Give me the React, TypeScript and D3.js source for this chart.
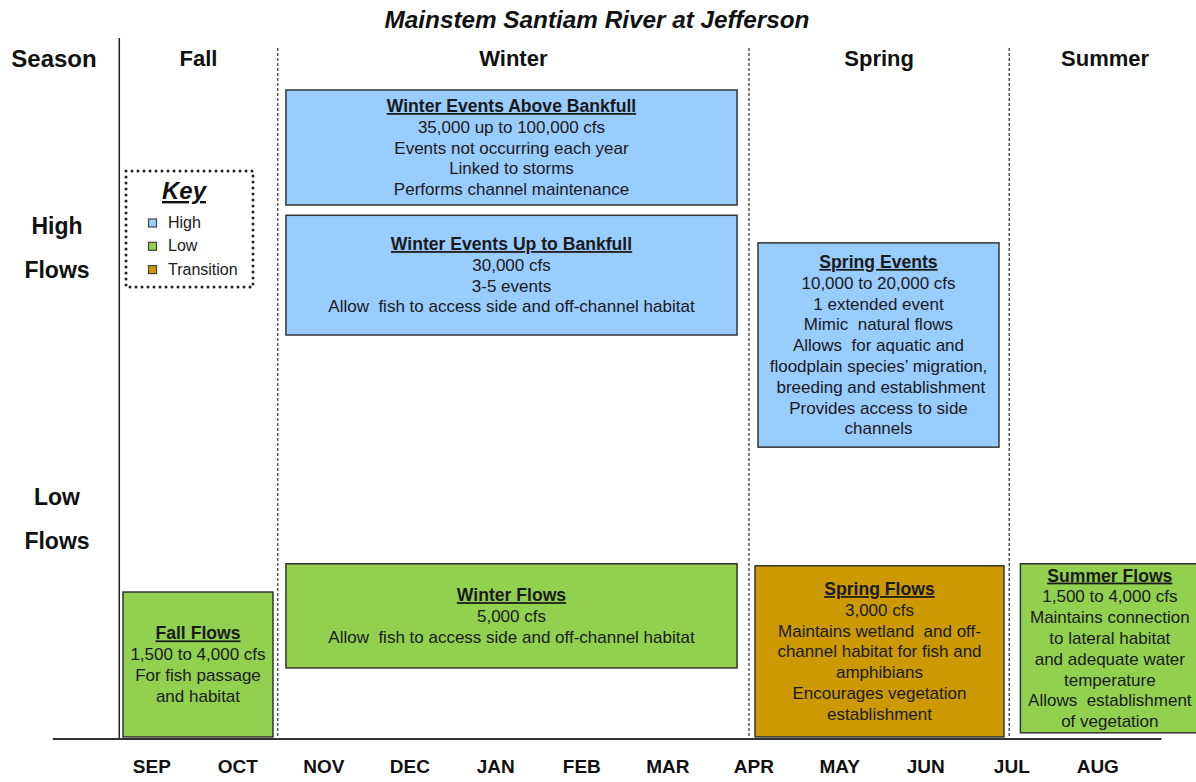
import React from 'react';
import * as d3 from 'd3';

const months = ['SEP', 'OCT', 'NOV', 'DEC', 'JAN', 'FEB', 'MAR', 'APR', 'MAY', 'JUN', 'JUL', 'AUG'];
const seasons = ['Fall', 'Winter', 'Spring', 'Summer'];
// season edges, in months from the start of September
const seasonEdges = [0.122, 1.964, 7.444, 10.47, 12.7];

const flowTitles = [
  'Winter Events Above Bankfull',
  'Winter Events Up to Bankfull',
  'Spring Events',
  'Fall Flows',
  'Winter Flows',
  'Spring Flows',
  'Summer Flows',
];
const flowLines = [
  ['35,000 up to 100,000 cfs', 'Events not occurring each year', 'Linked to storms', 'Performs channel maintenance'],
  ['30,000 cfs', '3-5 events', 'Allow  fish to access side and off-channel habitat'],
  ['10,000 to 20,000 cfs', '1 extended event', 'Mimic  natural flows', 'Allows  for aquatic and',
    'floodplain species\u2019 migration,', ' breeding and establishment', 'Provides access to side', 'channels'],
  ['1,500 to 4,000 cfs', 'For fish passage', 'and habitat'],
  ['5,000 cfs', 'Allow  fish to access side and off-channel habitat'],
  ['3,000 cfs', 'Maintains wetland  and off-', 'channel habitat for fish and', 'amphibians',
    'Encourages vegetation', 'establishment'],
  ['1,500 to 4,000 cfs', 'Maintains connection', 'to lateral habitat', 'and adequate water',
    'temperature', 'Allows  establishment', 'of vegetation'],
];
const flowKind = ['High', 'High', 'High', 'Low', 'Low', 'Transition', 'Low'];
const flowFrom = [2.06, 2.06, 7.549, 0.165, 2.06, 7.514, 10.6];
const flowTo = [7.305, 7.305, 10.351, 1.909, 7.305, 10.409, 12.68];
// relative flow level (0 = base line, 100 = top)
const flowTop = [94.06, 75.9, 71.9, 21.3, 25.4, 25.1, 25.4];
const flowBottom = [77.39, 58.55, 42.3, 0.3, 10.3, 0.3, 0.9];

const keyLabels = ['High', 'Low', 'Transition'];
const rowLabels = [['High', 'Flows'], ['Low', 'Flows']];

const FONT = 'Arial, "Liberation Sans", sans-serif';
const W = 1196;
const H = 782;

const App = () => {
  const x = d3.scaleLinear().domain([0, 12]).range([108.8, 1140.8]);
  const y = d3.scaleLinear().domain([0, 100]).range([739, 49]);
  const color = d3.scaleOrdinal<string, string>().domain(keyLabels).range(['#99CCFF', '#92D050', '#CC9900']);
  const lh = 20.8;
  const fs = 17;

  return (
    <svg width={W} height={H} style={{ position: 'absolute', left: 0, top: 0, background: '#fff' }} fontFamily={FONT}>
      <text x={597} y={28} textAnchor="middle" fontSize={24.3} fontWeight="bold" fontStyle="italic" fill="#111">
        Mainstem Santiam River at Jefferson
      </text>

      {/* header row */}
      <text x={54} y={67} textAnchor="middle" fontSize={24} fontWeight="bold" fill="#111">Season</text>
      {seasons.map((s, i) => (
        <text key={s} x={x((seasonEdges[i] + seasonEdges[i + 1]) / 2)} y={66} textAnchor="middle"
          fontSize={22} fontWeight="bold" fill="#111">{s}</text>
      ))}

      {/* row labels */}
      {rowLabels.map((r, i) => r.map((t, j) => (
        <text key={i + '-' + j} x={57} y={(i === 0 ? 234 : 505) + j * 44} textAnchor="middle"
          fontSize={23} fontWeight="bold" fill="#111">{t}</text>
      )))}

      {/* axis lines */}
      <line x1={x(seasonEdges[0])} x2={x(seasonEdges[0])} y1={38} y2={y(0)} stroke="#222" strokeWidth={1.5} />
      {seasonEdges.slice(1, 4).map((e, i) => (
        <line key={i} x1={x(e)} x2={x(e)} y1={48} y2={y(0)} stroke="#555" strokeWidth={1.5} strokeDasharray="3 2" />
      ))}
      <line x1={x(-0.652)} x2={x(12.24)} y1={y(0)} y2={y(0)} stroke="#333" strokeWidth={2} />

      {months.map((m, i) => (
        <text key={m} x={x(i + 0.5)} y={773} textAnchor="middle" fontSize={19} fontWeight="bold" fill="#111">{m}</text>
      ))}

      {/* flow boxes */}
      {flowTitles.map((t, i) => {
        const x0 = x(flowFrom[i]);
        const x1 = x(flowTo[i]);
        const y0 = y(flowTop[i]);
        const y1 = y(flowBottom[i]);
        const cx = (x0 + x1) / 2;
        const lines = [t, ...flowLines[i]];
        const start = (y0 + y1) / 2 - ((lines.length - 1) / 2) * lh + fs * 0.36;
        return (
          <g key={t}>
            <rect x={x0} y={y0} width={x1 - x0} height={y1 - y0} fill={color(flowKind[i])} stroke="#333" strokeWidth={1.5} />
            {lines.map((l, j) => (
              <text key={j} x={cx} y={start + j * lh} textAnchor="middle" fontSize={j === 0 ? 17.6 : fs}
                fontWeight={j === 0 ? 'bold' : 'normal'} fill="#1a1a1a"
                style={{ whiteSpace: 'pre', textDecoration: j === 0 ? 'underline' : 'none' }}>{l}</text>
            ))}
          </g>
        );
      })}

      {/* key */}
      <rect x={126} y={171} width={127} height={116} fill="none" stroke="#222" strokeWidth={3}
        strokeDasharray="0 6" strokeLinecap="round" />
      <text x={184} y={199} textAnchor="middle" fontSize={24} fontWeight="bold" fontStyle="italic" fill="#111"
        style={{ textDecoration: 'underline' }}>Key</text>
      {keyLabels.map((k, i) => (
        <g key={k}>
          <rect x={148.5} y={219 + i * 23.3} width={8} height={8} fill={color(k)} stroke="#444" strokeWidth={1.2} />
          <text x={168} y={228 + i * 23.3} fontSize={16} fill="#1a1a1a">{k}</text>
        </g>
      ))}
    </svg>
  );
};

export default App;
